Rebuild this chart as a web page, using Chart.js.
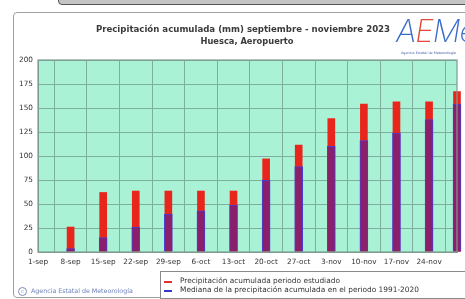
<!DOCTYPE html>
<html><head><meta charset="utf-8">
<script src="https://cdn.jsdelivr.net/npm/chart.js@4.4.0/dist/chart.umd.min.js"></script>
<style>
html,body{margin:0;padding:0;background:#fff;width:465px;height:299px;overflow:hidden;font-family:"DejaVu Sans",sans-serif;}
#wrap{position:relative;width:465px;height:299px;}
#c{position:absolute;left:0;top:0;}
.abs{position:absolute;white-space:nowrap;}
</style></head>
<body><div id="wrap">
<div class="abs" style="left:58px;top:-6px;width:420px;height:9px;background:#c4c4c4;border:1px solid #555;border-radius:0 0 0 4px;"></div>
<div class="abs" style="left:13px;top:12px;width:470px;height:284px;border:1.5px solid #a0a0a0;border-radius:4px;"></div>
<canvas id="c" width="465" height="299"></canvas>
<div class="abs" style="left:0;width:486px;top:24px;text-align:center;font-weight:bold;font-size:8.6px;color:#3a3a3a;">Precipitación acumulada (mm) septiembre - noviembre 2023</div>
<div class="abs" style="left:0;width:494px;top:36px;text-align:center;font-weight:bold;font-size:8.3px;color:#3a3a3a;">Huesca, Aeropuerto</div>
<div class="abs" style="left:396px;top:12px;font-size:31px;font-style:italic;letter-spacing:-1px;font-family:Inter,'Noto Sans',sans-serif;font-weight:200;line-height:38px;">
<span style="color:#3a6cc8;">A</span><span style="color:#e4483a;">E</span><span style="color:#3a6cc8;">M</span><span style="color:#3a6cc8;">e</span><span style="color:#3a6cc8;">t</span></div>
<div class="abs" style="left:401px;top:51px;font-size:3.4px;color:#4a60a8;">Agencia Estatal de Meteorología</div>
<div class="abs" style="left:160px;top:271px;width:320px;height:26px;border:1px solid #8a8a8a;background:#fff;"></div>
<div class="abs" style="left:164px;top:281px;width:8px;height:1.5px;background:#e03030;"></div>
<div class="abs" style="left:164px;top:290px;width:8px;height:1.5px;background:#3838c8;"></div>
<div class="abs" style="left:180px;top:276px;font-size:7.4px;color:#333;">Precipitación acumulada periodo estudiado</div>
<div class="abs" style="left:180px;top:285px;font-size:7.4px;color:#333;">Mediana de la precipitación acumulada en el periodo 1991-2020</div>
<div class="abs" style="left:18px;top:287px;width:7px;height:7px;border:1px solid #7a8cb8;border-radius:50%;font-size:5px;line-height:7px;text-align:center;color:#7a8cb8;">c</div>
<div class="abs" style="left:31px;top:287px;font-size:6.3px;color:#6d82b8;">Agencia Estatal de Meteorología</div>
</div>
<script>
// Data (days counted from 1-sep)
const tickDays = [0,7,14,21,28,35,42,49,56,63,70,77,84];
const tickLabels = ['1-sep','8-sep','15-sep','22-sep','29-sep','6-oct','13-oct','20-oct','27-oct','3-nov','10-nov','17-nov','24-nov'];
const barDays = [7,14,21,28,35,42,49,56,63,70,77,84,90];
const precipEstudiado = [26,62,63.5,63.5,63.5,63.5,97,111.5,139,154,156.5,156.5,167];
const medianaNormal = [3.5,15,26,39.5,43,49,75,89,110,116,124,138,154];
const yTicks = [0,25,50,75,100,125,150,175,200];

const plotBg = {
  id:'plotBg',
  beforeDraw(chart){
    const {ctx, chartArea:a} = chart;
    ctx.save(); ctx.fillStyle='#aaf2d6'; ctx.fillRect(a.left,a.top,a.right-a.left,a.bottom-a.top); ctx.restore();
  },
  afterDatasetsDraw(chart){
    const {ctx, chartArea:a} = chart;
    ctx.save(); ctx.strokeStyle='#7d9c92'; ctx.lineWidth=1.2;
    ctx.strokeRect(a.left,a.top,a.right-a.left,a.bottom-a.top); ctx.restore();
  }
};

const bars = (d)=>barDays.map((x,i)=>({x:x,y:d[i]}));

new Chart(document.getElementById('c'),{
  type:'bar',
  data:{datasets:[
    {label:'Mediana de la precipitación acumulada en el periodo 1991-2020', data:bars(medianaNormal),
     backgroundColor:'#8a1f6c', borderColor:'#4a3cd6', borderWidth:{left:1,right:1,top:1,bottom:0}, barThickness:8, grouped:false, clip:false},
    {label:'Precipitación acumulada periodo estudiado', data:bars(precipEstudiado),
     backgroundColor:'#e8261c', borderWidth:0, barThickness:7, grouped:false, clip:false}
  ]},
  options:{
    responsive:false, animation:false,
    layout:{padding:{left:0,top:60,right:8,bottom:31}},
    plugins:{legend:{display:false},tooltip:{enabled:false},title:{display:false}},
    scales:{
      x:{type:'linear',min:0,max:90,offset:false,
         afterBuildTicks(s){ s.ticks = tickDays.map(v=>({value:v})); },
         afterFit(s){ s.height=16; },
         grid:{color:'#7fae9f',lineWidth:1,drawTicks:false},
         border:{display:true,color:'#7d9c92'},
         ticks:{autoSkip:false,maxRotation:0,padding:6,color:'#333',font:{family:'DejaVu Sans',size:7.3},
           callback:(v)=>{const i=tickDays.indexOf(v);return i>=0?tickLabels[i]:'';}}},
      y:{min:0,max:200,
         afterBuildTicks(s){ s.ticks = yTicks.map(v=>({value:v})); },
         afterFit(s){ s.width=38; },
         grid:{color:'#7fae9f',lineWidth:1,drawTicks:false},
         border:{display:true,color:'#7d9c92'},
         ticks:{padding:5,color:'#333',font:{family:'DejaVu Sans',size:7.3}}}
    }
  },
  plugins:[plotBg]
});
</script>
</body></html>
